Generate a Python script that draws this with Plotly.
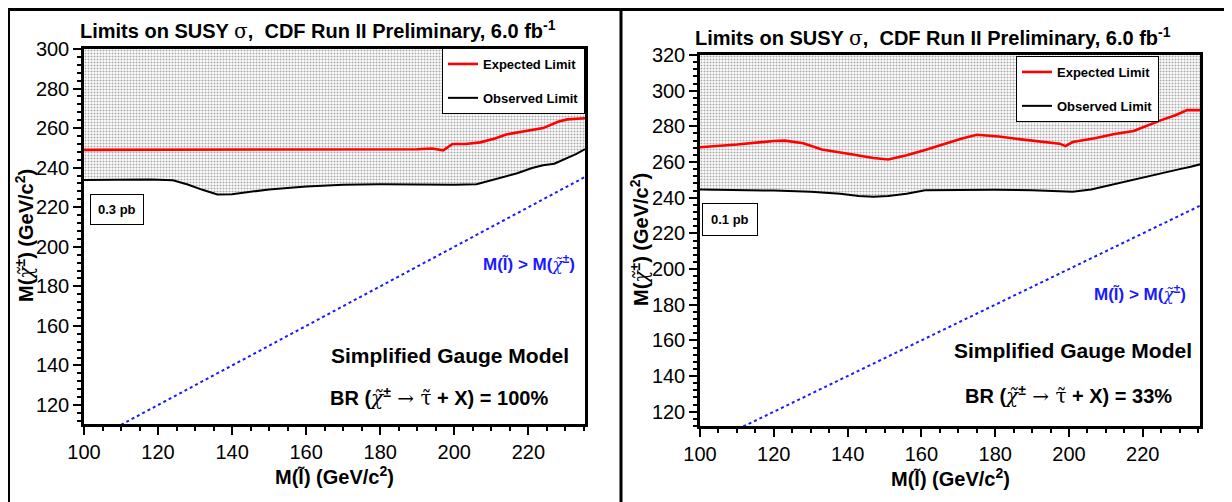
import plotly.graph_objects as go

# ---------------- data ----------------
# Left panel (0.3 pb, BR = 100%)
left_exp_x = [100, 110, 120, 130, 140, 150, 160, 170, 180, 190, 194, 197, 199.5, 203, 207, 211, 214, 219, 224, 228, 230.5, 235.3]
left_exp_y = [249, 249, 249.2, 249.3, 249.3, 249.1, 249, 249, 249.1, 249.3, 249.7, 248.8, 252, 252, 252.8, 254.8, 256.8, 258.3, 260, 263.2, 264.4, 265]
left_obs_x = [100, 110, 118, 124, 128, 132, 136, 140, 150, 160, 170, 180, 190, 200, 206, 212, 217, 221, 224, 227, 230, 233, 235.3]
left_obs_y = [233.8, 234, 234, 233.6, 231.5, 228.8, 226.4, 226.6, 229, 230.5, 231.4, 231.6, 231.4, 231.4, 231.6, 234.5, 237.2, 239.8, 241.2, 242, 244.5, 247, 249.4]

# Right panel (0.1 pb, BR = 33%)
right_exp_x = [100, 110, 120, 123, 128, 133, 141, 147, 151, 156, 161, 166, 171, 175, 181, 187, 193, 197.5, 199, 201, 207, 212, 217.5, 221, 225, 229, 232, 235.5]
right_exp_y = [268.3, 269.8, 271.8, 272, 270.5, 267, 264.4, 262.3, 261.4, 263.8, 266.8, 270, 273.2, 275.3, 274.3, 272.7, 271.5, 270.3, 268.9, 271.2, 273.3, 275.6, 277.4, 280.3, 283.5, 286.4, 289.1, 289.1]
right_obs_x = [100, 110, 120, 130, 138, 143, 147, 151, 156, 161, 170, 180, 190, 196, 201, 206, 212, 217.5, 222, 226.5, 230, 233, 235.5]
right_obs_y = [244.6, 244.5, 244, 243.4, 242.2, 241, 240.5, 241, 242.2, 244.2, 244.5, 244.5, 244.2, 243.9, 243.3, 244.6, 247.5, 249.9, 252.5, 254.5, 256, 257.3, 258.7]

# kinematic boundary M(slepton) = M(chargino)
diag_x = [100, 240]
diag_y = [100, 240]

left_xrange = [100, 235.3]
left_yrange = [110.4, 300]
right_xrange = [100, 235.5]
right_yrange = [112, 320]

x_ticks = [100, 120, 140, 160, 180, 200, 220]
left_y_ticks = [120, 140, 160, 180, 200, 220, 240, 260, 280, 300]
right_y_ticks = [120, 140, 160, 180, 200, 220, 240, 260, 280, 300, 320]

W, H = 1232, 502
OFF = 8  # page body margin
FONT = "Liberation Sans, Arial, sans-serif"
SERIF = "DejaVu Serif, Liberation Serif, serif"


def px(xp):
    return (xp - OFF) / W


def py(yp):
    return 1 - (yp - OFF) / H


chi = f"<span style='font-family:{SERIF};font-style:italic;font-weight:normal'>\u03c7\u0303</span>"
tau = f"<span style='font-family:{SERIF};font-weight:normal'>\u03c4\u0303</span>"
arrow = f"<span style='font-family:{SERIF};font-weight:normal'> \u2192 </span>"
sigma = f"<span style='font-family:{SERIF};font-weight:normal'>\u03c3</span>"
slep = "l\u0303"

title_txt = f"<b>Limits on SUSY {sigma},  CDF Run II Preliminary, 6.0 fb<sup>-1</sup></b>"
xtitle = f"<b>M({slep}) (GeV/c<sup>2</sup>)</b>"
ytitle = f"<b>M({chi}<sup>\u00b1</sup>) (GeV/c<sup>2</sup>)</b>"

fig = go.Figure()

panels = [
    dict(xa="x", ya="y", leg="legend", ex=left_exp_x, ey=left_exp_y, ox=left_obs_x, oy=left_obs_y,
         yr=left_yrange),
    dict(xa="x2", ya="y2", leg="legend2", ex=right_exp_x, ey=right_exp_y, ox=right_obs_x, oy=right_obs_y,
         yr=right_yrange),
]

for i, p in enumerate(panels):
    top = [p["yr"][1]] * len(p["ox"])
    fig.add_trace(go.Scatter(x=p["ox"], y=top, mode="lines", line=dict(width=0, color="rgba(0,0,0,0)"),
                             xaxis=p["xa"], yaxis=p["ya"], showlegend=False, hoverinfo="skip"))
    fig.add_trace(go.Scatter(x=p["ox"], y=p["oy"], mode="lines", line=dict(width=0, color="rgba(0,0,0,0)"),
                             fill="tonexty", fillcolor="white",
                             fillpattern=dict(shape=".", fgcolor="#5a5a5a", bgcolor="#ffffff", size=3, solidity=0.4),
                             xaxis=p["xa"], yaxis=p["ya"], showlegend=False, hoverinfo="skip"))
    fig.add_trace(go.Scatter(x=diag_x, y=diag_y, mode="lines", line=dict(color="#1a1aff", width=2, dash="dot"),
                             xaxis=p["xa"], yaxis=p["ya"], showlegend=False, hoverinfo="skip"))
    fig.add_trace(go.Scatter(x=p["ex"], y=p["ey"], mode="lines", name="<b>Expected Limit</b>",
                             line=dict(color="#ff0000", width=2.6), xaxis=p["xa"], yaxis=p["ya"],
                             legend=p["leg"], legendgroup=f"e{i}"))
    fig.add_trace(go.Scatter(x=p["ox"], y=p["oy"], mode="lines", name="<b>Observed Limit</b>",
                             line=dict(color="#000000", width=2), xaxis=p["xa"], yaxis=p["ya"],
                             legend=p["leg"], legendgroup=f"o{i}"))

axis_common = dict(showline=True, linecolor="black", linewidth=2.5, mirror=True, ticks="outside",
                   ticklen=8, tickwidth=1.5, tickcolor="black", showgrid=False, zeroline=False,
                   automargin=False,
                   tickfont=dict(family=FONT, size=20, color="black"))

fig.update_layout(
    width=W, height=H, autosize=False,
    margin=dict(l=0, r=0, t=0, b=0, autoexpand=False),
    paper_bgcolor="white", plot_bgcolor="white",
    font=dict(family=FONT, color="black"),
    xaxis=dict(domain=[px(84), px(585)], range=left_xrange, tickvals=x_ticks, anchor="y",
               minor=dict(dtick=5, ticklen=4, ticks="outside", tickcolor="black"), **axis_common),
    yaxis=dict(domain=[py(424), py(49)], range=left_yrange, tickvals=left_y_ticks, anchor="x",
               minor=dict(dtick=4, ticklen=4, ticks="outside", tickcolor="black"), **axis_common),
    xaxis2=dict(domain=[px(700), px(1200)], range=right_xrange, tickvals=x_ticks, anchor="y2",
                minor=dict(dtick=5, ticklen=4, ticks="outside", tickcolor="black"), **axis_common),
    yaxis2=dict(domain=[py(426), py(55)], range=right_yrange, tickvals=right_y_ticks, anchor="x2",
                minor=dict(dtick=4, ticklen=4, ticks="outside", tickcolor="black"), **axis_common),
    legend=dict(x=px(585), xanchor="right", y=py(48), yanchor="top", bgcolor="white",
                bordercolor="black", borderwidth=1, font=dict(family=FONT, size=13, color="black"),
                tracegroupgap=14, itemwidth=30),
    legend2=dict(x=px(1159), xanchor="right", y=py(56), yanchor="top", bgcolor="white",
                 bordercolor="black", borderwidth=1, font=dict(family=FONT, size=13, color="black"),
                 tracegroupgap=14, itemwidth=30),
    showlegend=True,
)

ann = []
# titles
ann.append(dict(text=title_txt, x=px(318), y=py(30), xref="paper", yref="paper", showarrow=False,
                font=dict(size=20, family=FONT, color="black"), xanchor="center", yanchor="middle"))
ann.append(dict(text=title_txt, x=px(933), y=py(37), xref="paper", yref="paper", showarrow=False,
                font=dict(size=20, family=FONT, color="black"), xanchor="center", yanchor="middle"))
# axis titles
for (xc, yc) in [(334, 475), (950, 477)]:
    ann.append(dict(text=xtitle, x=px(xc), y=py(yc), xref="paper", yref="paper", showarrow=False,
                    font=dict(size=20, family=FONT, color="black"), xanchor="center", yanchor="middle"))
for (xc, yc) in [(25, 236), (640, 240)]:
    ann.append(dict(text=ytitle, x=px(xc), y=py(yc), xref="paper", yref="paper", showarrow=False,
                    textangle=-90, font=dict(size=20, family=FONT, color="black"),
                    xanchor="center", yanchor="middle"))
# cross-section boxes
ann.append(dict(text="<b>0.3 pb</b>", x=px(117), y=py(209), xref="paper", yref="paper", showarrow=False,
                font=dict(size=13, family=FONT, color="black"), bordercolor="black", borderwidth=1,
                borderpad=7, bgcolor="white", xanchor="center", yanchor="middle"))
ann.append(dict(text="<b>0.1 pb</b>", x=px(730), y=py(219), xref="paper", yref="paper", showarrow=False,
                font=dict(size=13, family=FONT, color="black"), bordercolor="black", borderwidth=1,
                borderpad=8, bgcolor="white", xanchor="center", yanchor="middle"))
kin = f"<b>M({slep}) &gt; M({chi}<sup>\u00b1</sup>)</b>"
ann.append(dict(text=kin, x=px(577), y=py(263), xref="paper", yref="paper", showarrow=False,
                font=dict(size=17, family=FONT, color="#1a1aff"), xanchor="right", yanchor="middle"))
ann.append(dict(text=kin, x=px(1188), y=py(293), xref="paper", yref="paper", showarrow=False,
                font=dict(size=17, family=FONT, color="#1a1aff"), xanchor="right", yanchor="middle"))
for (xc, yc) in [(450, 355), (1073, 350)]:
    ann.append(dict(text="<b>Simplified Gauge Model</b>", x=px(xc), y=py(yc), xref="paper", yref="paper",
                    showarrow=False, font=dict(size=21, family=FONT, color="black"),
                    xanchor="center", yanchor="middle"))
ann.append(dict(text=f"<b>BR ({chi}<sup>\u00b1</sup>{arrow}{tau} + X) = 100%</b>", x=px(439), y=py(397),
                xref="paper", yref="paper", showarrow=False, font=dict(size=20, family=FONT, color="black"),
                xanchor="center", yanchor="middle"))
ann.append(dict(text=f"<b>BR ({chi}<sup>\u00b1</sup>{arrow}{tau} + X) = 33%</b>", x=px(1068), y=py(395),
                xref="paper", yref="paper", showarrow=False, font=dict(size=20, family=FONT, color="black"),
                xanchor="center", yanchor="middle"))
fig.update_layout(annotations=ann)

# panel frames
shapes = [
    dict(type="line", xref="paper", yref="paper", x0=px(8), x1=px(1240), y0=py(9.5), y1=py(9.5),
         line=dict(color="black", width=3)),
    dict(type="line", xref="paper", yref="paper", x0=px(9), x1=px(9), y0=py(510), y1=py(8),
         line=dict(color="black", width=2)),
    dict(type="line", xref="paper", yref="paper", x0=px(621), x1=px(621), y0=py(510), y1=py(8),
         line=dict(color="black", width=3)),
]
fig.update_layout(shapes=shapes)

fig.write_html("out.html")
